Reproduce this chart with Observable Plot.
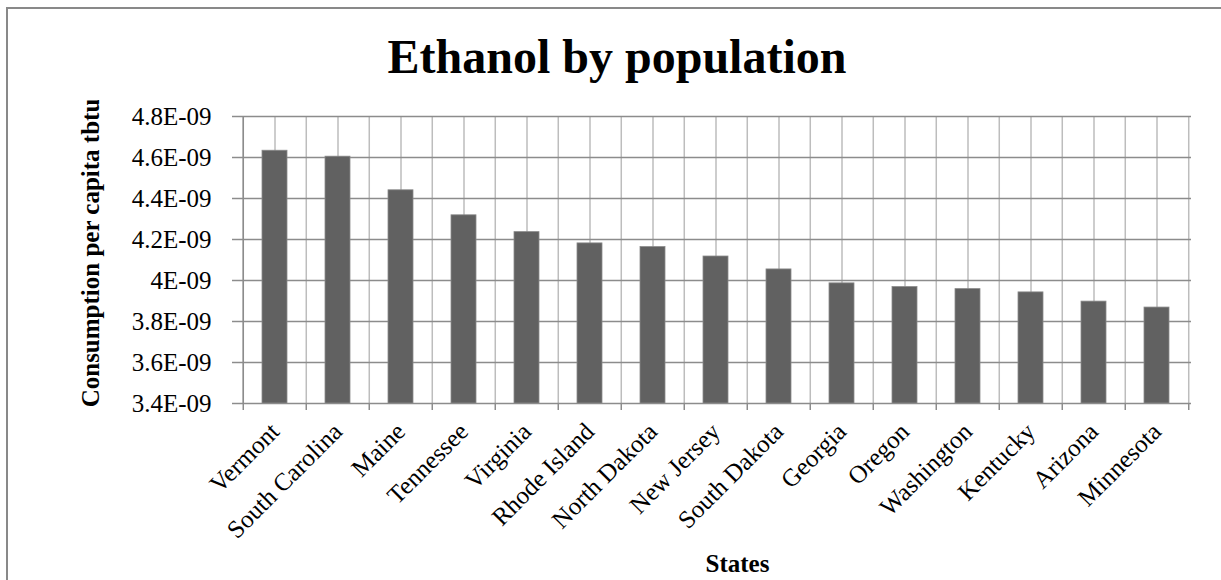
<!DOCTYPE html>
<html>
<head>
<meta charset="utf-8">
<script src="https://cdn.jsdelivr.net/npm/d3@7"></script>
<script src="https://cdn.jsdelivr.net/npm/@observablehq/plot@0.6"></script>
<style>
  html, body { margin: 0; padding: 0; background: #fff; overflow: hidden; }
  #wrap { position: relative; width: 1221px; height: 580px; font-family: "Liberation Serif", "Times New Roman", serif; }
  #border { position: absolute; left: 6px; top: 7px; width: 1400px; height: 800px; border-left: 2px solid #898989; border-top: 2px solid #898989; pointer-events: none; }
  #title { position: relative; height: 100px; }
  #title span { position: absolute; left: 0; width: 1234px; top: 32.5px; text-align: center; font-size: 48px; line-height: 48px; font-weight: bold; color: #000; }
  #chart svg { display: block; }
</style>
</head>
<body>
<div id="wrap">
  <div id="border"></div>
  <div id="title"><span>Ethanol by population</span></div>
  <div id="chart"></div>
</div>
<script>
// Ethanol consumption per capita (tbtu), by state
const states = ["Vermont", "South Carolina", "Maine", "Tennessee", "Virginia", "Rhode Island",
  "North Dakota", "New Jersey", "South Dakota", "Georgia", "Oregon", "Washington",
  "Kentucky", "Arizona", "Minnesota"];
const consumption = [4.633e-9, 4.604e-9, 4.440e-9, 4.318e-9, 4.236e-9, 4.181e-9,
  4.163e-9, 4.117e-9, 4.054e-9, 3.986e-9, 3.968e-9, 3.958e-9,
  3.942e-9, 3.897e-9, 3.868e-9];
const yTicks = [3.4e-9, 3.6e-9, 3.8e-9, 4.0e-9, 4.2e-9, 4.4e-9, 4.6e-9, 4.8e-9];
const yTickLabels = ["3.4E-09", "3.6E-09", "3.8E-09", "4E-09", "4.2E-09", "4.4E-09", "4.6E-09", "4.8E-09"];
const xTitle = "States";
const yTitle = "Consumption per capita tbtu";

const rows = states.map((state, i) => ({state, value: consumption[i]}));

const W = 1221, H = 480;
const mL = 239, mR = 30, mT = 16, mB = 177;
const step = (W - mL - mR) / states.length;
const yMin = yTicks[0], yMax = yTicks[yTicks.length - 1];
const gridDark = "#8c8c8c", gridLight = "#bdbdbd";
const font = "Liberation Serif";
const tickLabel = d => yTickLabels[yTicks.findIndex(t => Math.abs(t - d) < 1e-13)];

const chart = Plot.plot({
  width: W,
  height: H,
  marginLeft: mL,
  marginRight: mR,
  marginTop: mT,
  marginBottom: mB,
  style: {fontFamily: font, fontSize: "25px", color: "#000", background: "#fff"},
  x: {type: "band", domain: states, padding: 0, axis: null, label: null},
  y: {domain: [yMin, yMax], axis: null, label: null},
  marks: [
    // vertical grid: category centres and category boundaries
    Plot.ruleX(states, {x: d => d, stroke: gridLight, strokeWidth: 1.5}),
    Plot.ruleX(states, {x: d => d, dx: -step / 2, stroke: gridLight, strokeWidth: 1.5}),
    Plot.ruleX(states.slice(-1), {x: d => d, dx: step / 2, stroke: gridLight, strokeWidth: 1.5}),
    // horizontal grid
    Plot.ruleY(yTicks, {y: d => d, stroke: gridDark, strokeWidth: 1.5}),
    // bars
    Plot.barY(rows, {x: "state", y1: () => yMin, y2: "value", fill: "#616161",
      stroke: "#8a8a8a", strokeWidth: 0.8, insetLeft: 19, insetRight: 19}),
    // y axis line and ticks
    Plot.ruleX(states.slice(0, 1), {x: d => d, dx: -step / 2, stroke: gridDark, strokeWidth: 1.5}),
    Plot.axisY(yTicks, {label: null, tickSize: 7, tickPadding: 21, stroke: gridDark, strokeWidth: 1.5,
      tickFormat: tickLabel, fontSize: 25, fill: "#000"}),
    // x axis ticks at category boundaries
    Plot.axisX(states, {label: null, tickSize: 7, tickFormat: () => "", dx: -step / 2, stroke: gridDark, strokeWidth: 1.5}),
    Plot.axisX(states.slice(-1), {label: null, tickSize: 7, tickFormat: () => "", dx: step / 2, stroke: gridDark, strokeWidth: 1.5}),
    // rotated category labels
    Plot.axisX(states, {label: null, tickSize: 0, tickPadding: 24, tickRotate: -45, fontSize: 25, fill: "#000"}),
    // axis titles
    Plot.text([yTitle], {frameAnchor: "left", text: d => d, rotate: -90, dx: -149, dy: -7,
      textAnchor: "middle", lineAnchor: "middle", fontSize: 25, fontWeight: "bold", fill: "#000"}),
    Plot.text([xTitle], {frameAnchor: "bottom", text: d => d, dx: 22, dy: 160,
      textAnchor: "middle", lineAnchor: "middle", fontSize: 25, fontWeight: "bold", fill: "#000"})
  ]
});
document.getElementById("chart").appendChild(chart);
</script>
</body>
</html>
